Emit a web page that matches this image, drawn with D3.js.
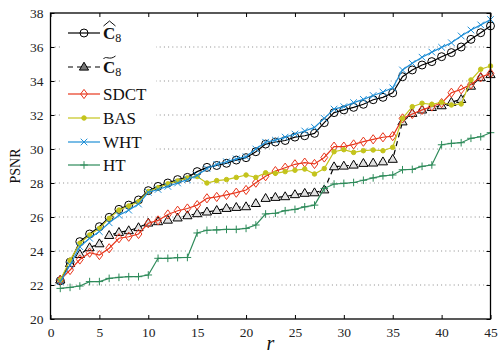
<!DOCTYPE html>
<html>
<head>
<meta charset="utf-8">
<script src="https://cdn.jsdelivr.net/npm/d3@7"></script>
<style>
  body { margin: 0; background: #fff; }
  svg { display: block; font-family: "Liberation Serif", "DejaVu Serif", serif; }
</style>
</head>
<body>
<div id="chart"></div>
<script>
// r (number of retained coefficients)
const rValues = [1, 2, 3, 4, 5, 6, 7, 8, 9, 10, 11, 12, 13, 14, 15, 16, 17, 18, 19, 20,
  21, 22, 23, 24, 25, 26, 27, 28, 29, 30, 31, 32, 33, 34, 35, 36, 37, 38, 39, 40,
  41, 42, 43, 44, 45];

const c8Hat = [22.25, 23.35, 24.55, 25.0, 25.43, 25.98, 26.45, 26.7, 27.0, 27.55,
  27.8, 28.0, 28.2, 28.33, 28.67, 28.92, 29.03, 29.16, 29.35, 29.49,
  29.84, 30.29, 30.41, 30.5, 30.7, 30.78, 30.92, 31.55, 32.14, 32.3,
  32.45, 32.63, 32.9, 33.04, 33.3, 34.25, 34.65, 34.94, 35.14, 35.43,
  35.67, 36.0, 36.45, 36.84, 37.24];

const c8Tilde = [22.3, 23.27, 23.8, 24.2, 24.43, 24.92, 25.1, 25.2, 25.38, 25.65,
  25.73, 25.82, 25.95, 26.08, 26.2, 26.3, 26.39, 26.51, 26.57, 26.61,
  26.8, 27.1, 27.16, 27.2, 27.32, 27.4, 27.43, 27.6, 28.96, 29.0,
  29.06, 29.16, 29.18, 29.25, 29.4, 31.6, 32.1, 32.3, 32.45, 32.55,
  32.75, 32.92, 33.7, 34.2, 34.38];

const sdct = [22.3, 22.88, 23.5, 23.9, 23.76, 24.16, 24.75, 24.84, 25.0, 25.63,
  25.8, 26.15, 26.37, 26.5, 26.7, 27.1, 27.18, 27.3, 27.43, 27.59,
  28.02, 28.4, 28.7, 28.9, 29.1, 29.2, 29.12, 29.5, 30.14, 30.14,
  30.27, 30.43, 30.57, 30.69, 30.76, 31.8, 32.06, 32.3, 32.5, 32.7,
  33.31, 33.51, 33.8, 34.22, 34.45];

const bas = [22.3, 23.45, 24.45, 24.94, 25.33, 25.92, 26.41, 26.65, 26.9, 27.5,
  27.72, 27.95, 28.12, 28.3, 28.38, 28.0, 28.14, 28.2, 28.33, 28.47,
  28.33, 28.6, 28.57, 28.67, 28.75, 28.82, 28.53, 28.85, 29.84, 29.96,
  29.8, 29.9, 29.94, 29.9, 30.1, 31.8, 32.49, 32.69, 32.63, 32.75,
  32.59, 32.65, 34.06, 34.69, 34.88];

const wht = [22.2, 23.18, 24.25, 24.75, 25.14, 25.66, 26.1, 26.4, 26.76, 27.45,
  27.62, 27.8, 28.0, 28.2, 28.45, 28.85, 29.1, 29.25, 29.42, 29.55,
  30.0, 30.4, 30.52, 30.7, 30.88, 31.06, 31.27, 31.8, 32.35, 32.49,
  32.73, 32.92, 33.15, 33.35, 33.6, 34.65, 35.04, 35.4, 35.7, 35.98,
  36.25, 36.65, 37.0, 37.3, 37.62];

const ht = [21.8, 21.86, 21.94, 22.2, 22.2, 22.39, 22.45, 22.49, 22.49, 22.59,
  23.57, 23.57, 23.61, 23.62, 25.06, 25.22, 25.24, 25.27, 25.27, 25.33,
  25.53, 26.18, 26.22, 26.37, 26.45, 26.6, 26.7, 27.68, 27.94, 27.98,
  28.03, 28.16, 28.3, 28.42, 28.47, 28.78, 28.8, 28.98, 29.06, 30.25,
  30.33, 30.37, 30.63, 30.72, 30.96];

const xTicks = [0, 5, 10, 15, 20, 25, 30, 35, 40, 45];
const yTicks = [20, 22, 24, 26, 28, 30, 32, 34, 36, 38];

const seriesNames = ["C8hat", "C8tilde", "SDCT", "BAS", "WHT", "HT"];
const seriesValues = [c8Hat, c8Tilde, sdct, bas, wht, ht];

const width = 503, height = 354;
const margin = { left: 50.5, right: 12.5, top: 13, bottom: 35 };

const style = {
  C8hat:   { color: "#000", dash: null,  marker: "circle" },
  C8tilde: { color: "#000", dash: "5,4", marker: "triangle" },
  SDCT:    { color: "#e8361c", dash: null, marker: "diamond" },
  BAS:     { color: "#c4c41c", dash: null, marker: "dot" },
  WHT:     { color: "#1f8fd6", dash: null, marker: "x" },
  HT:      { color: "#2e8b5a", dash: null, marker: "plus" }
};

const svg = d3.select('#chart')
  .append('svg')
  .attr('width', width)
  .attr('height', height);

const x = d3.scaleLinear().domain([0, 45]).range([margin.left, width - margin.right]);
const y = d3.scaleLinear().domain([20, 38]).range([height - margin.bottom, margin.top]);

// dotted horizontal grid
svg.append('g')
  .selectAll('line')
  .data(yTicks.slice(1, -1))
  .join('line')
  .attr('x1', x(0)).attr('x2', x(45))
  .attr('y1', d => y(d)).attr('y2', d => y(d))
  .attr('stroke', '#8a8a8a')
  .attr('stroke-width', 1)
  .attr('stroke-dasharray', '1,3.2');

// axes with inward ticks
const xAxis = d3.axisBottom(x).tickValues(xTicks).tickSize(-4).tickPadding(8);
const xAxisTop = d3.axisTop(x).tickValues(xTicks).tickSize(-4).tickFormat('');
const yAxis = d3.axisLeft(y).tickValues(yTicks).tickSize(-4).tickPadding(7);
const yAxisRight = d3.axisRight(y).tickValues(yTicks).tickSize(-4).tickFormat('');

function styleAxis(g) {
  g.select('.domain').remove();
  g.selectAll('line').attr('stroke', '#000');
  g.selectAll('text')
    .attr('font-family', '"Liberation Serif", serif')
    .attr('font-size', 13.5)
    .attr('fill', '#222');
}

svg.append('g').attr('transform', `translate(0,${y(20)})`).call(xAxis).call(styleAxis);
svg.append('g').attr('transform', `translate(0,${y(38)})`).call(xAxisTop).call(styleAxis);
svg.append('g').attr('transform', `translate(${x(0)},0)`).call(yAxis).call(styleAxis);
svg.append('g').attr('transform', `translate(${x(45)},0)`).call(yAxisRight).call(styleAxis);

// marker shapes
function markerPath(type) {
  switch (type) {
    case 'circle': return d3.symbol(d3.symbolCircle, 50)();
    case 'triangle': return 'M0,-4.8L4.6,3.1L-4.6,3.1Z';
    case 'diamond': return 'M0,-4.6L3.4,0L0,4.6L-3.4,0Z';
    case 'dot': return d3.symbol(d3.symbolCircle, 16)();
    case 'x': return 'M-3.3,-3.3L3.3,3.3M-3.3,3.3L3.3,-3.3';
    case 'plus': return 'M-3.8,0L3.8,0M0,-3.8L0,3.8';
  }
}
function markerFill(name) {
  const s = style[name];
  if (s.marker === 'triangle') return '#e2e2e2';
  if (s.marker === 'dot') return s.color;
  return 'none';
}

const line = d3.line()
  .x((d, i) => x(rValues[i]))
  .y(d => y(d));

const plot = svg.append('g');
seriesNames.forEach((name, k) => {
  const s = style[name];
  const vals = seriesValues[k];
  const g = plot.append('g');
  g.append('path')
    .datum(vals)
    .attr('d', line)
    .attr('fill', 'none')
    .attr('stroke', s.color)
    .attr('stroke-width', 1.2)
    .attr('stroke-dasharray', s.dash);
  g.selectAll('path.m')
    .data(vals)
    .join('path')
    .attr('class', 'm')
    .attr('transform', (d, i) => `translate(${x(rValues[i])},${y(d)})`)
    .attr('d', markerPath(s.marker))
    .attr('fill', markerFill(name))
    .attr('stroke', s.color)
    .attr('stroke-width', 1);
});

// frame
svg.append('rect')
  .attr('x', x(0)).attr('y', y(38))
  .attr('width', x(45) - x(0)).attr('height', y(20) - y(38))
  .attr('fill', 'none')
  .attr('stroke', '#000')
  .attr('stroke-width', 1.3);

// legend
const legend = svg.append('g');
legend.append('rect')
  .attr('x', 62).attr('y', 18).attr('width', 94).attr('height', 158)
  .attr('fill', '#fff');

const legendRows = [
  { name: 'C8hat', y: 33 },
  { name: 'C8tilde', y: 67 },
  { name: 'SDCT', y: 94 },
  { name: 'BAS', y: 118 },
  { name: 'WHT', y: 142 },
  { name: 'HT', y: 165 }
];
const legendLabels = { SDCT: 'SDCT', BAS: 'BAS', WHT: 'WHT', HT: 'HT' };

legendRows.forEach(row => {
  const s = style[row.name];
  legend.append('line')
    .attr('x1', 68).attr('x2', 100)
    .attr('y1', row.y).attr('y2', row.y)
    .attr('stroke', s.color)
    .attr('stroke-width', 1.2)
    .attr('stroke-dasharray', s.dash);
  legend.append('path')
    .attr('transform', `translate(84,${row.y})`)
    .attr('d', markerPath(s.marker))
    .attr('fill', s.marker === 'triangle' ? '#777' : markerFill(row.name))
    .attr('stroke', s.color)
    .attr('stroke-width', 1);

  if (row.name === 'C8hat' || row.name === 'C8tilde') {
    const t = legend.append('text')
      .attr('x', 103).attr('y', row.y + 6)
      .attr('font-size', 17)
      .attr('fill', '#111');
    t.append('tspan').attr('font-weight', 'bold').text('C');
    t.append('tspan').attr('font-size', 12).attr('dy', 3).text('8');
    // wide accent over the C
    const ay = row.y - 9;
    legend.append('path')
      .attr('d', row.name === 'C8hat'
        ? `M103.5,${ay + 2}L109.5,${ay - 3}L115.5,${ay + 2}`
        : `M103.5,${ay + 1}C106,${ay - 3} 109,${ay + 3} 115.5,${ay - 2}`)
      .attr('fill', 'none')
      .attr('stroke', '#111')
      .attr('stroke-width', 1);
  } else {
    legend.append('text')
      .attr('x', 103).attr('y', row.y + 6)
      .attr('font-size', 17)
      .attr('fill', '#111')
      .text(legendLabels[row.name]);
  }
});

// axis titles
svg.append('text')
  .attr('transform', `translate(20,${(y(20) + y(38)) / 2}) rotate(-90)`)
  .attr('text-anchor', 'middle')
  .attr('font-size', 14)
  .attr('fill', '#111')
  .text('PSNR');

svg.append('text')
  .attr('x', (x(0) + x(45)) / 2)
  .attr('y', 350)
  .attr('text-anchor', 'middle')
  .attr('font-size', 20)
  .attr('font-style', 'italic')
  .attr('fill', '#111')
  .text('r');
</script>
</body>
</html>
